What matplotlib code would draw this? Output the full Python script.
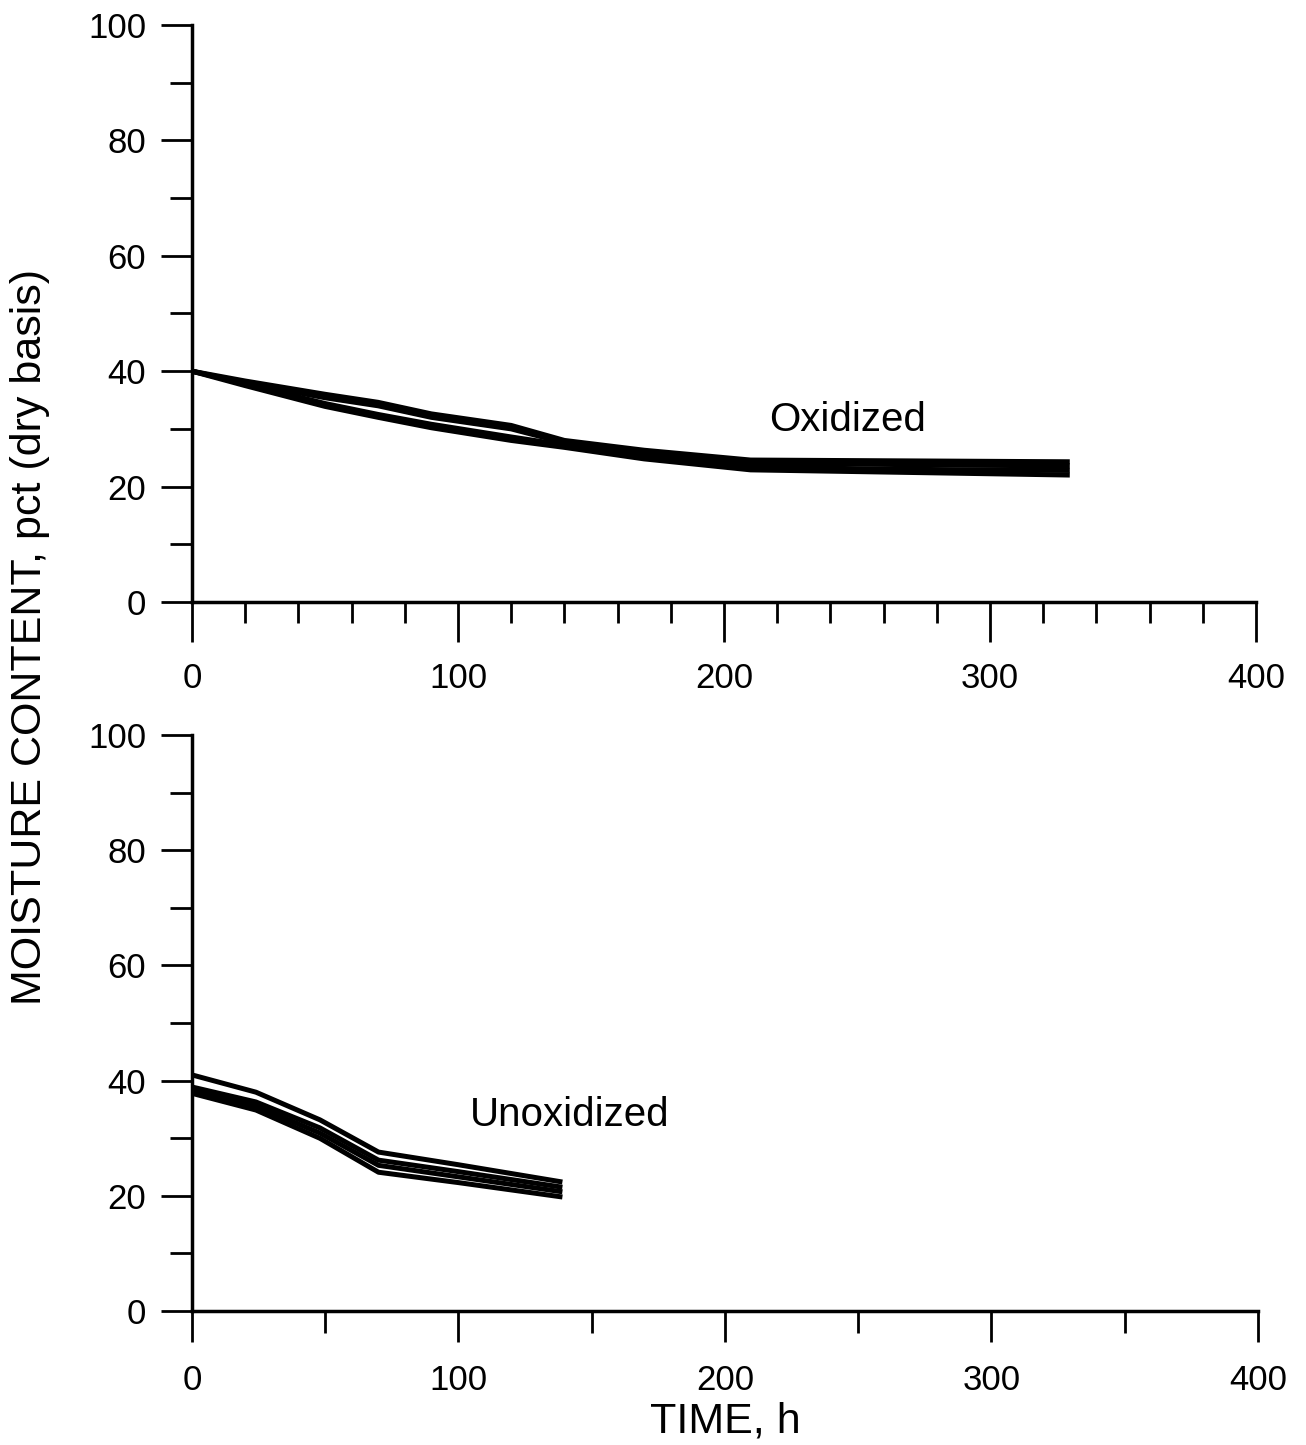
import matplotlib.pyplot as plt
from matplotlib.ticker import MultipleLocator

plt.rcParams['font.family'] = ['Liberation Sans', 'DejaVu Sans']

# Oxidized samples
t_ox = [0, 20, 50, 70, 90, 120, 140, 170, 210, 250, 290, 330]
ox_a = [40, 38.3, 36.0, 34.6, 32.6, 30.6, 28.0, 26.3, 24.6, 24.5, 24.4, 24.3]
ox_b = [40, 38.0, 35.4, 34.0, 32.0, 30.0, 27.6, 25.8, 24.0, 23.9, 23.7, 23.6]
ox_c = [40, 37.8, 34.4, 32.5, 30.8, 28.6, 27.2, 25.2, 23.4, 23.1, 22.9, 22.8]
ox_d = [40, 37.5, 33.9, 32.0, 30.2, 28.0, 26.8, 24.8, 22.9, 22.6, 22.3, 22.0]

# Unoxidized samples
t_un = [0, 24, 48, 70, 100, 139]
un_a = [41.0, 38.0, 33.2, 27.6, 25.4, 22.4]
un_b = [38.9, 36.3, 31.8, 26.2, 24.2, 21.5]
un_c = [38.4, 35.6, 30.9, 25.3, 23.3, 20.7]
un_d = [37.8, 34.9, 30.0, 24.1, 22.3, 19.8]

fig = plt.figure(figsize=(13.06, 14.45), dpi=100)
ax1 = fig.add_axes([0.147, 0.5834, 0.8147, 0.3993])
ax2 = fig.add_axes([0.147, 0.0927, 0.8162, 0.3986])

for ys in (ox_a, ox_b, ox_c, ox_d):
    ax1.plot(t_ox, ys, color='black', lw=3.6, solid_capstyle='butt')
for ys in (un_a, un_b, un_c, un_d):
    ax2.plot(t_un, ys, color='black', lw=3.6, solid_capstyle='butt')

ax1.text(246.6, 31.5, 'Oxidized', fontsize=29, ha='center', va='center')
ax2.text(141.8, 34, 'Unoxidized', fontsize=29, ha='center', va='center')

for ax, xminor, xmaj_len, xmin_len, xpad in ((ax1, 20, 29, 15, 14),
                                              (ax2, 50, 22, 16, 16)):
    ax.set_xlim(0, 400)
    ax.set_ylim(0, 100)
    ax.spines['top'].set_visible(False)
    ax.spines['right'].set_visible(False)
    ax.spines['left'].set_linewidth(2.5)
    ax.spines['bottom'].set_linewidth(2.5)
    ax.xaxis.set_major_locator(MultipleLocator(100))
    ax.xaxis.set_minor_locator(MultipleLocator(xminor))
    ax.yaxis.set_major_locator(MultipleLocator(20))
    ax.yaxis.set_minor_locator(MultipleLocator(10))
    ax.tick_params(axis='x', which='major', direction='out', length=xmaj_len,
                   width=2, labelsize=25, pad=xpad)
    ax.tick_params(axis='x', which='minor', direction='out', length=xmin_len, width=2)
    ax.tick_params(axis='y', which='major', direction='out', length=22,
                   width=2, labelsize=25, pad=11)
    ax.tick_params(axis='y', which='minor', direction='out', length=16, width=2)

fig.text(0.555, 1 - 1421 / 1445, 'TIME, h', fontsize=31, ha='center', va='center')
fig.text(0.023, 1 - 637 / 1445, 'MOISTURE CONTENT, pct (dry basis)', fontsize=31,
         rotation=90, ha='center', va='center')

fig.savefig('out.png', dpi=100)
